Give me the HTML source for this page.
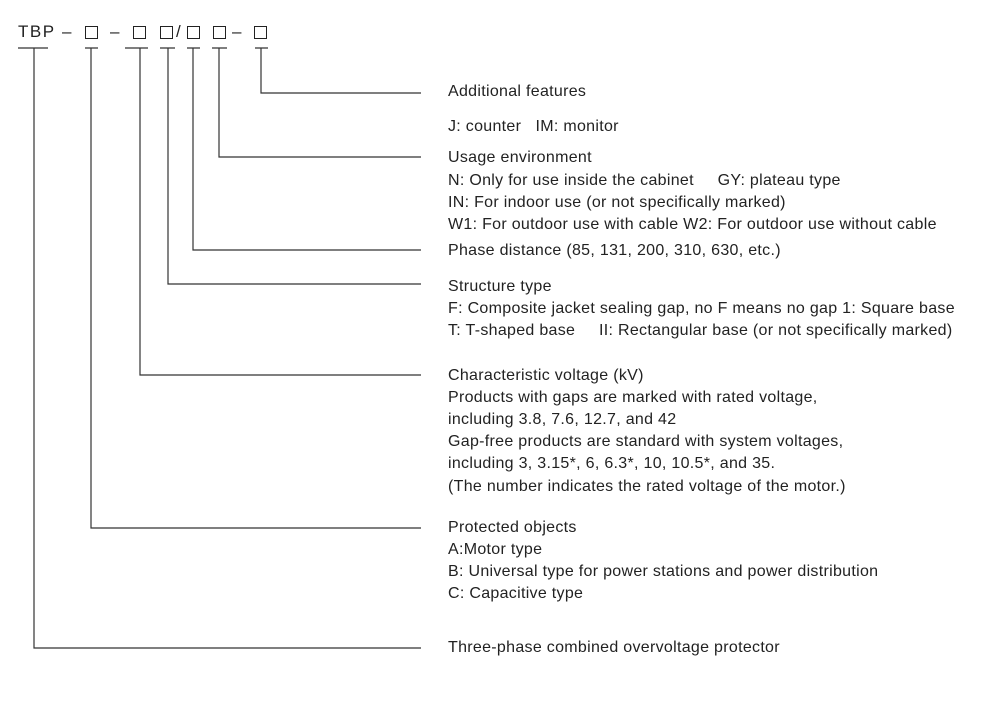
<!DOCTYPE html>
<html><head><style>
body{margin:0;background:#fff;width:1000px;height:712px;position:relative;overflow:hidden;font-family:"Liberation Sans",Arial,sans-serif;color:#222}
.t{position:absolute;left:448px;font-size:16px;line-height:18px;white-space:nowrap;letter-spacing:0.3px}
.h{position:absolute;font-size:17px;top:22px;letter-spacing:1.5px}
.b{position:absolute;top:26px;width:11px;height:11px;border:1.5px solid #222}
</style></head><body>
<div class="h" style="left:18px">TBP</div>
<div class="h" style="left:62px">–</div>
<div class="b" style="left:85px"></div>
<div class="h" style="left:110px">–</div>
<div class="b" style="left:133px"></div>
<div class="b" style="left:160px"></div>
<div class="h" style="left:176px">/</div>
<div class="b" style="left:187px"></div>
<div class="b" style="left:213px"></div>
<div class="h" style="left:232px">–</div>
<div class="b" style="left:254px"></div>
<svg width="1000" height="712" style="position:absolute;left:0;top:0" stroke="#333" stroke-width="1.2" fill="none">
<path d="M18 48H48M85 48H98M125 48H148M160 48H175M187 48H200M212 48H227M255 48H268"/>
<path d="M34 48V648H421M91 48V528H421M140 48V375H421M168 48V284H421M193 48V250H421M219 48V157H421M261 48V93H421"/>
</svg>
<div class="t" style="top:83px">Additional features</div>
<div class="t" style="top:118px">J: counter &nbsp;&nbsp;IM: monitor</div>
<div class="t" style="top:149px">Usage environment</div>
<div class="t" style="top:172px">N: Only for use inside the cabinet &nbsp;&nbsp;&nbsp;&nbsp;GY: plateau type</div>
<div class="t" style="top:194px">IN: For indoor use (or not specifically marked)</div>
<div class="t" style="top:216px">W1: For outdoor use with cable W2: For outdoor use without cable</div>
<div class="t" style="top:242px">Phase distance (85, 131, 200, 310, 630, etc.)</div>
<div class="t" style="top:278px">Structure type</div>
<div class="t" style="top:300px">F: Composite jacket sealing gap, no F means no gap 1: Square base</div>
<div class="t" style="top:322px">T: T-shaped base &nbsp;&nbsp;&nbsp;&nbsp;II: Rectangular base (or not specifically marked)</div>
<div class="t" style="top:367px">Characteristic voltage (kV)</div>
<div class="t" style="top:389px">Products with gaps are marked with rated voltage,</div>
<div class="t" style="top:411px">including 3.8, 7.6, 12.7, and 42</div>
<div class="t" style="top:433px">Gap-free products are standard with system voltages,</div>
<div class="t" style="top:455px">including 3, 3.15*, 6, 6.3*, 10, 10.5*, and 35.</div>
<div class="t" style="top:478px">(The number indicates the rated voltage of the motor.)</div>
<div class="t" style="top:519px">Protected objects</div>
<div class="t" style="top:541px">A:Motor type</div>
<div class="t" style="top:563px">B: Universal type for power stations and power distribution</div>
<div class="t" style="top:585px">C: Capacitive type</div>
<div class="t" style="top:639px">Three-phase combined overvoltage protector</div>
</body></html>
